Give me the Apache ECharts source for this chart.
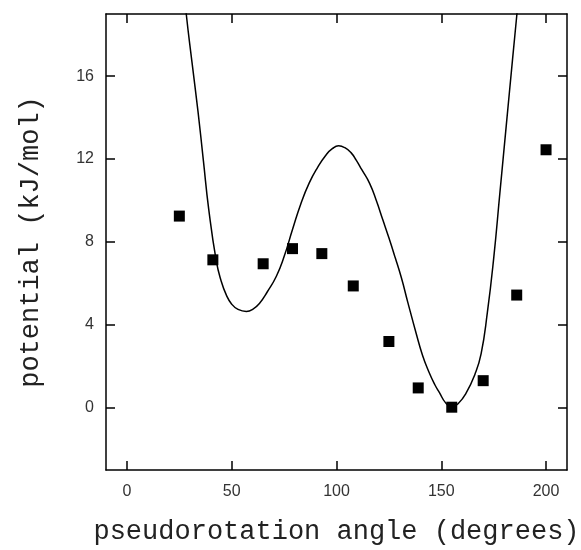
<!DOCTYPE html>
<html>
<head>
<meta charset="utf-8">
<script src="https://cdn.jsdelivr.net/npm/echarts@6/dist/echarts.min.js"></script>
<style>
  html, body { margin: 0; padding: 0; background: #fff; }
  #chart { width: 581px; height: 550px; }
</style>
</head>
<body>
<div id="chart"></div>
<script>
// measured points (squares)
const pointAngle = [25, 41, 65, 79, 93, 108, 125, 139, 155, 170, 186, 200];
const pointEnergy = [9.25, 7.14, 6.95, 7.68, 7.44, 5.88, 3.2, 0.96, 0.03, 1.31, 5.44, 12.45];

// fitted curve
const curveAngle = [27.5, 28.3, 31, 33.9, 36.5, 39, 42.6, 45, 47.4, 50, 53, 57, 60, 63.3, 67, 71.3, 75, 79, 83, 87, 91, 95, 98, 101, 104, 107, 109.4, 112, 115.8, 119, 122.1, 125, 128, 131, 134, 138, 141, 144, 147, 149.2, 152, 155, 158, 161.9, 166, 169, 172, 175, 178, 181, 184, 186.1, 187];
const curveEnergy = [20.0, 19.0, 16.7, 14.3, 11.9, 9.6, 7.1, 6.1, 5.45, 5.0, 4.75, 4.65, 4.75, 5.05, 5.6, 6.35, 7.3, 8.6, 9.85, 10.85, 11.6, 12.2, 12.5, 12.64, 12.55, 12.3, 11.95, 11.5, 10.83, 10.0, 9.07, 8.2, 7.25, 6.26, 5.1, 3.6, 2.55, 1.75, 1.1, 0.72, 0.25, 0.03, 0.2, 0.72, 1.6, 2.6, 4.6, 7.2, 10.4, 13.6, 16.8, 19.0, 20.0];

const xTicks = [0, 50, 100, 150, 200];
const yTicks = [0, 4, 8, 12, 16];

const chart = echarts.init(document.getElementById('chart'));

const tickFont = { fontFamily: 'Liberation Sans', fontSize: 16, color: '#333' };
const titleFont = { fontFamily: 'Liberation Mono', fontSize: 27, color: '#222' };
const lineStyle = { color: '#000', width: 1.5 };

function xAxis(pos, showLabels) {
  return {
    type: 'value', position: pos, min: -10, max: 210, interval: 50,
    axisLine: { show: true, onZero: false, lineStyle: lineStyle },
    axisTick: { show: true, inside: true, length: 9, lineStyle: lineStyle,
      customValues: xTicks },
    axisLabel: Object.assign({ show: showLabels, margin: 14,
      customValues: xTicks }, tickFont),
    splitLine: { show: false },
    name: showLabels ? 'pseudorotation angle (degrees)' : '',
    nameLocation: 'middle', nameGap: 48, nameTextStyle: titleFont
  };
}

function yAxis(pos, showLabels) {
  return {
    type: 'value', position: pos, min: -3, max: 19,
    axisLine: { show: true, onZero: false, lineStyle: lineStyle },
    axisTick: { show: true, inside: true, length: 9, lineStyle: lineStyle,
      customValues: yTicks },
    axisLabel: Object.assign({ show: showLabels, margin: 12,
      customValues: yTicks }, tickFont),
    splitLine: { show: false },
    name: showLabels ? 'potential (kJ/mol)' : '',
    nameLocation: 'middle', nameGap: 62, nameTextStyle: titleFont
  };
}

chart.setOption({
  backgroundColor: '#fff',
  animation: false,
  grid: { left: 106, right: 14, top: 14, bottom: 80, outerBoundsMode: 'none', containLabel: false },
  xAxis: [xAxis('bottom', true), xAxis('top', false)],
  yAxis: [yAxis('left', true), yAxis('right', false)],
  series: [
    {
      type: 'line',
      data: curveAngle.map((a, i) => [a, curveEnergy[i]]),
      smooth: 0.5,
      showSymbol: false,
      clip: true,
      lineStyle: { color: '#000', width: 1.5 }
    },
    {
      type: 'scatter',
      data: pointAngle.map((a, i) => [a, pointEnergy[i]]),
      symbol: 'rect',
      symbolSize: 11,
      itemStyle: { color: '#000', opacity: 1 }
    }
  ]
});
</script>
</body>
</html>
